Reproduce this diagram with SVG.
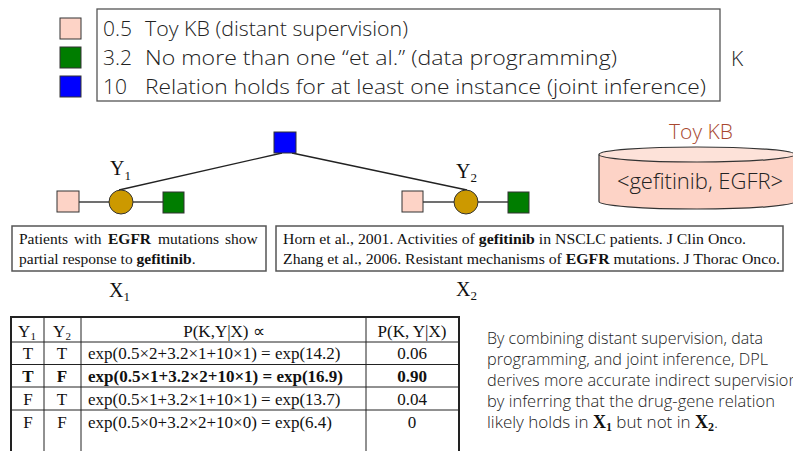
<svg xmlns="http://www.w3.org/2000/svg" width="793" height="451" viewBox="0 0 793 451">
<style>
.ui{font-family:"Open Sans","Noto Sans",sans-serif;font-weight:300;fill:#222}
.tm{font-family:"Liberation Serif","Times New Roman",serif;fill:#111}
.pink{fill:#fdd3c6;stroke:#333;stroke-width:1}
.green{fill:#007d00;stroke:#333;stroke-width:1}
.blue{fill:#0000ff;stroke:#333;stroke-width:1}
.var{fill:#cc9900;stroke:#333;stroke-width:1}
.edge{stroke:#222;stroke-width:1.3;fill:none}
.box{fill:#fff;stroke:#555;stroke-width:1.5}
.tl{stroke:#222;stroke-width:1;fill:none}
.tlo{stroke:#222;stroke-width:2;fill:none}
</style>
<rect width="793" height="451" fill="#fff"/>

<g id="legend">
  <rect class="pink" x="60" y="18" width="21" height="21"/>
  <rect class="green" x="60" y="47" width="21" height="21"/>
  <rect class="blue" x="60" y="76" width="21" height="21"/>
  <rect x="97" y="9" width="623" height="92" fill="#fff" stroke="#555" stroke-width="1.3"/>
  <g class="ui" font-size="21">
    <text x="103" y="36">0.5</text>
    <text x="145" y="36" textLength="263" lengthAdjust="spacingAndGlyphs">Toy KB (distant supervision)</text>
    <text x="103" y="65">3.2</text>
    <text x="145" y="65" textLength="472" lengthAdjust="spacingAndGlyphs">No more than one “et al.” (data programming)</text>
    <text x="103" y="94">10</text>
    <text x="145" y="94" textLength="561" lengthAdjust="spacingAndGlyphs">Relation holds for at least one instance (joint inference)</text>
  </g>
  <text class="ui" font-size="21" x="731" y="66">K</text>
</g>

<g id="connectors">
  <line class="edge" x1="282" y1="153" x2="119" y2="190"/>
  <line class="edge" x1="292" y1="153" x2="467" y2="190"/>
  <line class="edge" x1="79" y1="202" x2="109" y2="202"/>
  <line class="edge" x1="133" y1="202" x2="163" y2="202"/>
  <line class="edge" x1="423" y1="202" x2="454" y2="202"/>
  <line class="edge" x1="478" y1="202" x2="508" y2="202"/>
</g>

<g id="joint-factor">
  <rect class="blue" x="274" y="132" width="22" height="21"/>
</g>

<g id="y1">
  <rect class="pink" x="57" y="191" width="22" height="21"/>
  <circle class="var" cx="121" cy="202" r="12"/>
  <rect class="green" x="163" y="192" width="21" height="21"/>
  <text class="tm" font-size="20" x="110" y="175">Y<tspan font-size="13" dy="5">1</tspan></text>
</g>

<g id="y2">
  <rect class="pink" x="402" y="191" width="21" height="21"/>
  <circle class="var" cx="466" cy="202" r="12"/>
  <rect class="green" x="508" y="192" width="21" height="21"/>
  <text class="tm" font-size="20" x="456" y="178">Y<tspan font-size="13" dy="4">2</tspan></text>
</g>

<g id="x1">
  <rect class="box" x="12" y="226" width="254" height="45"/>
  <g class="tm" font-size="15.5">
    <text x="19" y="244">Patients</text>
    <text x="74" y="244">with</text>
    <text x="108" y="244" font-weight="bold">EGFR</text>
    <text x="158" y="244">mutations</text>
    <text x="225" y="244">show</text>
    <text x="19" y="264">partial response to <tspan font-weight="bold">gefitinib</tspan>.</text>
  </g>
  <text class="tm" font-size="20" x="109" y="297">X<tspan font-size="13" dy="4">1</tspan></text>
</g>

<g id="x2">
  <rect class="box" x="276" y="226" width="507" height="45"/>
  <g class="tm" font-size="15.5">
    <text x="283" y="244" textLength="463" lengthAdjust="spacingAndGlyphs">Horn et al., 2001. Activities of <tspan font-weight="bold">gefitinib</tspan> in NSCLC patients. J Clin Onco.</text>
    <text x="283" y="264" textLength="497" lengthAdjust="spacingAndGlyphs">Zhang et al., 2006. Resistant mechanisms of <tspan font-weight="bold">EGFR</tspan> mutations. J Thorac Onco.</text>
  </g>
  <text class="tm" font-size="20" x="456" y="296">X<tspan font-size="13" dy="4">2</tspan></text>
</g>

<g id="toykb">
  <text x="701" y="139" text-anchor="middle" font-family="Open Sans, Noto Sans, sans-serif" font-weight="300" font-size="21" fill="#a8472f">Toy KB</text>
  <path d="M599,154.5 L599,201.5 A98,7.5 0 0 0 795,201.5 L795,154.5" fill="#fdd3c6" stroke="#333" stroke-width="1.2"/>
  <ellipse cx="697" cy="154.5" rx="98" ry="7.5" fill="#fde2d9" stroke="#333" stroke-width="1.2"/>
  <text class="ui" font-size="22" x="700" y="189" text-anchor="middle" fill="#333">&lt;gefitinib, EGFR&gt;</text>
</g>

<g id="table">
  <g class="tl">
    <line x1="11" y1="342" x2="459" y2="342"/>
    <line x1="11" y1="364.5" x2="459" y2="364.5"/>
    <line x1="11" y1="387" x2="459" y2="387"/>
    <line x1="11" y1="410" x2="459" y2="410"/>
    <line x1="44" y1="317" x2="44" y2="451"/>
    <line x1="81" y1="317" x2="81" y2="451"/>
    <line x1="366" y1="317" x2="366" y2="451"/>
  </g>
  <path class="tlo" d="M11,452 L11,317 L459,317 L459,452"/>
  <g class="tm" font-size="17" text-anchor="middle">
    <text x="27" y="337">Y<tspan font-size="11" dy="3">1</tspan></text>
    <text x="62" y="337">Y<tspan font-size="11" dy="3">2</tspan></text>
    <text x="224" y="337">P(K,Y|X) ∝</text>
    <text x="412" y="337">P(K, Y|X)</text>
    <text x="28" y="359">T</text><text x="62" y="359">T</text>
    <text x="412" y="359">0.06</text>
    <g font-weight="bold">
      <text x="28" y="382">T</text><text x="62" y="382">F</text>
      <text x="412" y="382">0.90</text>
    </g>
    <text x="28" y="405">F</text><text x="62" y="405">T</text>
    <text x="412" y="405">0.04</text>
    <text x="28" y="428">F</text><text x="62" y="428">F</text>
    <text x="412" y="428">0</text>
  </g>
  <g class="tm" font-size="17">
    <text x="88" y="359">exp(0.5×2+3.2×1+10×1) = exp(14.2)</text>
    <text x="88" y="382" font-weight="bold">exp(0.5×1+3.2×2+10×1) = exp(16.9)</text>
    <text x="88" y="405">exp(0.5×1+3.2×1+10×1) = exp(13.7)</text>
    <text x="88" y="428">exp(0.5×0+3.2×2+10×0) = exp(6.4)</text>
  </g>
</g>

<g id="summary" class="ui" font-size="17" fill="#333">
  <text x="487" y="344" textLength="276" lengthAdjust="spacingAndGlyphs">By combining distant supervision, data</text>
  <text x="487" y="365" textLength="281" lengthAdjust="spacingAndGlyphs">programming, and joint inference, DPL</text>
  <text x="487" y="386" textLength="311" lengthAdjust="spacingAndGlyphs">derives more accurate indirect supervision</text>
  <text x="487" y="407" textLength="288" lengthAdjust="spacingAndGlyphs">by inferring that the drug-gene relation</text>
  <text x="487" y="428">likely holds in <tspan class="tm" font-weight="bold" font-size="18">X</tspan><tspan class="tm" font-weight="bold" font-size="12" dy="3">1</tspan><tspan dy="-3"> but not in </tspan><tspan class="tm" font-weight="bold" font-size="18">X</tspan><tspan class="tm" font-weight="bold" font-size="12" dy="3">2</tspan><tspan dy="-3">.</tspan></text>
</g>
</svg>
